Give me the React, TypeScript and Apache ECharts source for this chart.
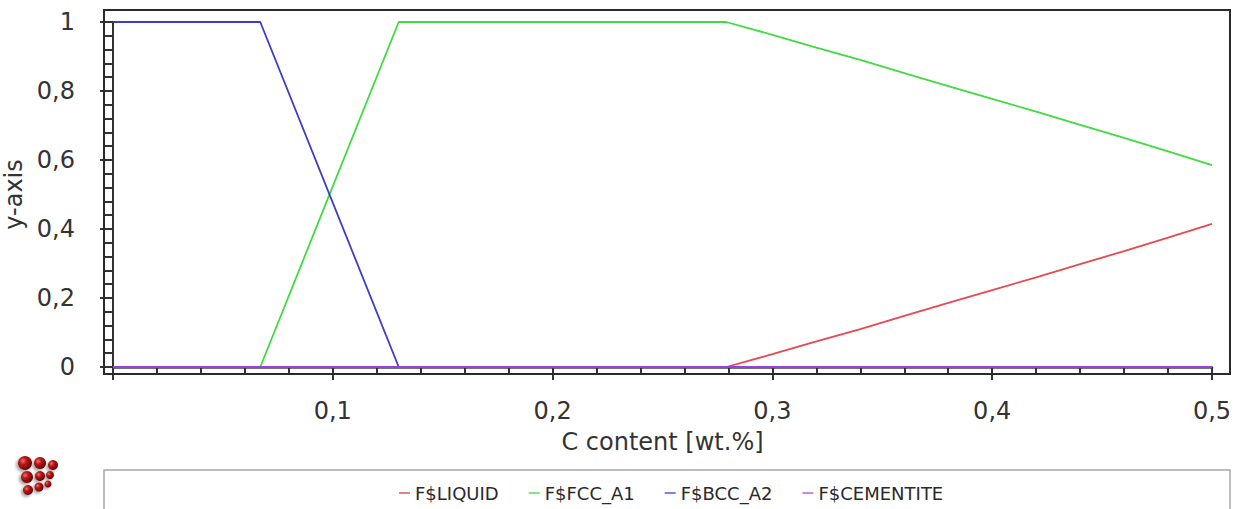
import React, { useEffect, useRef } from "react";
import * as echarts from "echarts";

// C content [wt.%]
const cContent = [0, 0.067, 0.13, 0.279, 0.3, 0.32, 0.34, 0.36, 0.38, 0.4, 0.42, 0.44, 0.46, 0.48, 0.5];
const liquid = [0, 0, 0, 0, 0.037, 0.074, 0.11, 0.148, 0.186, 0.223, 0.26, 0.298, 0.336, 0.375, 0.415];
const fccA1 = [0, 0, 1, 1, 0.963, 0.926, 0.89, 0.852, 0.814, 0.777, 0.74, 0.702, 0.664, 0.625, 0.585];
const bccA2 = [1, 1, 0, 0, 0, 0, 0, 0, 0, 0, 0, 0, 0, 0, 0];
const cementite = [0, 0, 0, 0, 0, 0, 0, 0, 0, 0, 0, 0, 0, 0, 0];

const seriesNames = ["F$LIQUID", "F$FCC_A1", "F$BCC_A2", "F$CEMENTITE"];
const seriesValues = [liquid, fccA1, bccA2, cementite];
const seriesColors = ["#e8484f", "#3fdc3f", "#3b3bcc", "#9a3fdc"];
const legendColors = ["#f08080", "#7fe87f", "#7f7fe8", "#c58ae8"];

const FONT = "DejaVu Sans";

const fmt = (v: number) => Number(v.toFixed(2)).toString().replace(".", ",");

// logo balls: [cx, cy, r]
const logoBalls = [
  [25, 463, 7], [40, 463, 6], [53, 465, 5],
  [27, 477, 6], [40, 476, 5], [50, 475, 4],
  [28, 490, 5], [39, 487, 4.5], [48, 484, 3.5],
];

export default function App() {
  const ref = useRef<HTMLDivElement>(null);
  useEffect(() => {
    if (!ref.current) return;
    const chart = echarts.init(ref.current, null, { renderer: "svg" });
    const series = seriesNames.map((name, i) => ({
      name,
      type: "line",
      data: cContent.map((x, j) => [x, seriesValues[i][j]]),
      showSymbol: false,
      symbol: "none",
      lineStyle: { color: seriesColors[i], width: 1.8 },
      itemStyle: { color: legendColors[i] },
      z: 3,
    }));
    const graphic: any[] = [
      {
        type: "rect",
        shape: { x: 104, y: 10, width: 1126, height: 364 },
        style: { fill: "none", stroke: "#2a2a2a", lineWidth: 2 },
        z: 1,
      },
      {
        type: "rect",
        shape: { x: 104, y: 470, width: 1126, height: 60 },
        style: { fill: "none", stroke: "#a8a8a8", lineWidth: 1.5 },
        z: 1,
      },
    ];
    logoBalls.forEach(([cx, cy, r]) => {
      graphic.push({
        type: "circle",
        shape: { cx, cy, r },
        style: {
          fill: {
            type: "radial",
            x: 0.35,
            y: 0.35,
            r: 0.75,
            colorStops: [
              { offset: 0, color: "#f07070" },
              { offset: 0.35, color: "#b81818" },
              { offset: 1, color: "#5c0000" },
            ],
          },
          shadowBlur: 3,
          shadowColor: "rgba(0,0,0,0.35)",
          shadowOffsetX: -2,
          shadowOffsetY: 2,
        },
        z: 2,
      });
    });
    chart.setOption({
      animation: false,
      backgroundColor: "#ffffff",
      grid: {
        left: 113,
        right: 34,
        top: 22,
        bottom: 142,
        containLabel: false,
        outerBoundsMode: "none",
      },
      xAxis: {
        type: "value",
        min: 0,
        max: 0.5,
        interval: 0.1,
        offset: 12,
        name: "C content [wt.%]",
        nameLocation: "middle",
        nameGap: 51,
        nameTextStyle: { fontFamily: FONT, fontSize: 24, color: "#333" },
        axisLine: { show: true, lineStyle: { color: "#444", width: 2.5 } },
        axisTick: { show: true, length: 13, lineStyle: { color: "#333", width: 2 } },
        minorTick: { show: true, splitNumber: 5, length: 8, lineStyle: { color: "#333", width: 2 } },
        splitLine: { show: false },
        axisLabel: {
          fontFamily: FONT,
          fontSize: 24,
          color: "#333",
          margin: 20,
          showMinLabel: false,
          formatter: (v: number) => (v === 0 ? "" : fmt(v)),
        },
      },
      yAxis: {
        type: "value",
        min: 0,
        max: 1,
        interval: 0.2,
        offset: 13,
        name: "y-axis",
        nameLocation: "middle",
        nameGap: 70,
        nameRotate: 90,
        nameTextStyle: { fontFamily: FONT, fontSize: 24, color: "#333" },
        axisLine: { show: true, lineStyle: { color: "#333", width: 2 } },
        axisTick: { show: true, length: 13, lineStyle: { color: "#333", width: 2 } },
        minorTick: { show: true, splitNumber: 5, length: 8, lineStyle: { color: "#333", width: 2 } },
        splitLine: { show: false },
        axisLabel: {
          fontFamily: FONT,
          fontSize: 24,
          color: "#333",
          margin: 25,
          formatter: (v: number) => fmt(v),
        },
      },
      legend: {
        show: true,
        left: 399,
        top: 484,
        padding: 0,
        itemGap: 30,
        itemWidth: 11,
        itemHeight: 2,
        icon: "rect",
        textStyle: { fontFamily: FONT, fontSize: 18, color: "#2a2a2a" },
        data: seriesNames,
      },
      graphic,
      series,
    });
    return () => chart.dispose();
  }, []);
  return (
    <div
      ref={ref}
      style={{ position: "absolute", left: 0, top: 0, width: 1246, height: 509, background: "#fff" }}
    />
  );
}
